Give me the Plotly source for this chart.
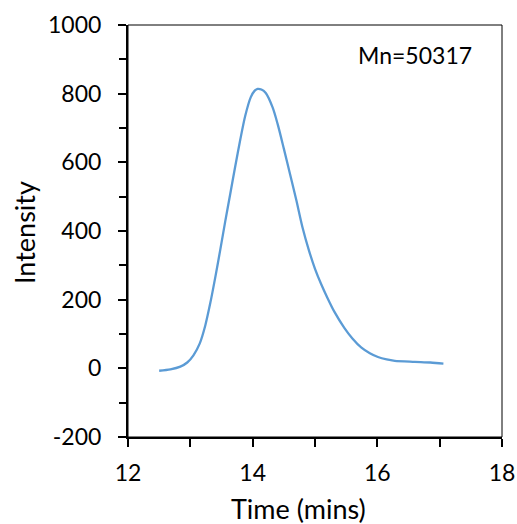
import plotly.graph_objects as go

time_min = [12.50, 12.68, 12.84, 12.95, 13.05, 13.15, 13.24, 13.32, 13.40, 13.48,
            13.56, 13.64, 13.72, 13.80, 13.88, 13.97, 14.03, 14.08, 14.14, 14.21,
            14.32, 14.40, 14.50, 14.60, 14.70, 14.80, 14.90, 15.00, 15.10, 15.20,
            15.31, 15.47, 15.60, 15.74, 15.88, 16.01, 16.15, 16.28, 16.60, 16.85,
            17.06]
intensity = [-7, -3, 5, 17, 38, 72, 125, 190, 265, 345,
             428, 508, 588, 665, 735, 790, 808, 814, 812, 802,
             760, 712, 640, 565, 490, 410, 345, 290, 245, 205,
             165, 118, 87, 61, 44, 33, 26, 22, 19, 17,
             14]

x_ticks = [12, 14, 16, 18]
x_ticktext = ["12", "14", "16", "18"]
y_ticks = [-200, 0, 200, 400, 600, 800, 1000]
y_ticktext = ["-200", "0", "200", "400", "600", "800", "1000"]
label_text = "Mn=50317"
x_title = "Time (mins)"
y_title = "Intensity"

FONT = "Lato, Open Sans, sans-serif"
BLACK = "#000000"

fig = go.Figure()
fig.add_trace(go.Scatter(x=time_min, y=intensity, mode="lines",
                         line=dict(color="#5B9BD5", width=2.3, shape="spline", smoothing=0.8),
                         showlegend=False, hoverinfo="skip"))

fig.add_annotation(x=16.61, y=912, xref="x", yref="y", text=label_text, showarrow=False,
                   font=dict(family=FONT, size=23, color=BLACK))

# axis titles
fig.add_annotation(x=(298 - 128) / 374, y=-(509 - 437) / 412, xref="paper", yref="paper",
                   text=x_title, showarrow=False, xanchor="center", yanchor="middle",
                   font=dict(family=FONT, size=27, color=BLACK))
fig.add_annotation(x=(24 - 128) / 374, y=(437 - 233) / 412, xref="paper", yref="paper",
                   text=y_title, showarrow=False, xanchor="center", yanchor="middle", textangle=-90,
                   font=dict(family=FONT, size=27, color=BLACK))

# thin frame on top/right
fig.add_shape(type="rect", xref="paper", yref="paper", x0=0, y0=0, x1=1, y1=1,
              line=dict(color=BLACK, width=1), layer="above")

fig.update_xaxes(range=[12, 18], tickvals=x_ticks, ticktext=x_ticktext, ticks="outside",
                 ticklen=8, tickwidth=1.5, tickcolor=BLACK, showline=True, linecolor=BLACK,
                 linewidth=2, showgrid=False, zeroline=False, automargin=False,
                 ticklabelstandoff=6,
                 minor=dict(dtick=1, ticks="outside", ticklen=8, tickwidth=1.5,
                            tickcolor=BLACK, showgrid=False),
                 tickfont=dict(family=FONT, size=23, color=BLACK))
fig.update_yaxes(range=[-200, 1000], tickvals=y_ticks, ticktext=y_ticktext, ticks="outside",
                 ticklen=8, tickwidth=1.5, tickcolor=BLACK, showline=True, linecolor=BLACK,
                 linewidth=2, showgrid=False, zeroline=False, automargin=False,
                 ticklabelstandoff=12,
                 minor=dict(dtick=100, ticks="outside", ticklen=7, tickwidth=1.5,
                            tickcolor=BLACK, showgrid=False),
                 tickfont=dict(family=FONT, size=23, color=BLACK))

fig.update_layout(width=517, height=524, margin=dict(l=128, r=15, t=25, b=87, autoexpand=False),
                  plot_bgcolor="white", paper_bgcolor="white")

fig.write_html("out.html", config={"displayModeBar": False},
               post_script="document.body.style.margin='0';document.body.style.padding='0';")
